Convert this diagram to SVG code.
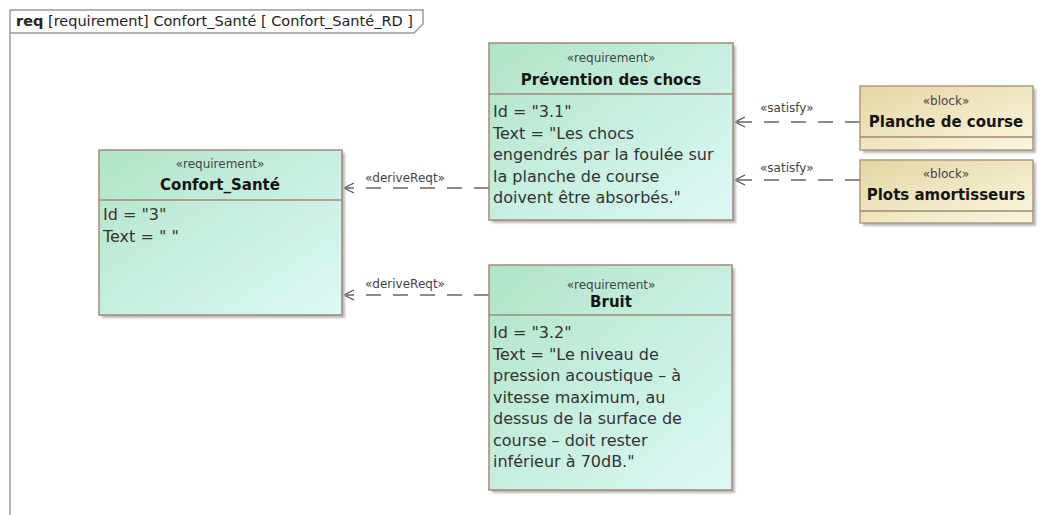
<svg xmlns="http://www.w3.org/2000/svg" width="1045" height="515" viewBox="0 0 1045 515">
  <defs>
    <linearGradient id="reqFill" x1="0" y1="0" x2="1" y2="1">
      <stop offset="0" stop-color="#b0e4c8"/>
      <stop offset="1" stop-color="#ddf9f6"/>
    </linearGradient>
    <linearGradient id="blockFill" x1="0" y1="0" x2="1" y2="1">
      <stop offset="0" stop-color="#e4d6a4"/>
      <stop offset="1" stop-color="#fbf6de"/>
    </linearGradient>
    <filter id="soft" x="-10%" y="-10%" width="130%" height="130%">
      <feGaussianBlur stdDeviation="1.2"/>
    </filter>
    <marker id="openArrow" viewBox="0 0 12 12" refX="11" refY="6" markerWidth="12" markerHeight="12" markerUnits="userSpaceOnUse" orient="auto">
      <path d="M1,1 L11,6 L1,11" fill="none" stroke="#555" stroke-width="1.2" stroke-dasharray="none"/>
    </marker>
  </defs>
  <style>
    .frame { fill: none; stroke: #9a9a9a; stroke-width: 1.5; }
    .shadow { fill: #b9b9b9; filter: url(#soft); }
    .req { fill: url(#reqFill); stroke: #a08a78; stroke-width: 1.5; }
    .blk { fill: url(#blockFill); stroke: #ae9a82; stroke-width: 1.5; }
    .div { stroke: #a08a78; stroke-width: 1.5; }
    .stereo { font-family: "DejaVu Sans", "Liberation Sans", sans-serif; font-size: 12px; fill: #444; text-anchor: middle; }
    .name { font-family: "DejaVu Sans", "Liberation Sans", sans-serif; font-size: 15px; font-weight: bold; fill: #151515; text-anchor: middle; }
    .body { font-family: "DejaVu Sans", "Liberation Sans", sans-serif; font-size: 16px; fill: #333; }
    .lbl { font-family: "DejaVu Sans", "Liberation Sans", sans-serif; font-size: 12px; fill: #444; }
    .title { font-family: "DejaVu Sans", "Liberation Sans", sans-serif; font-size: 14.5px; fill: #222; }
    .dep { fill: none; stroke: #666; stroke-width: 1.5; stroke-dasharray: 15 12; marker-end: url(#openArrow); }
  </style>

  <rect width="1045" height="515" fill="#ffffff"/>

  <!-- diagram frame: name tab and left edge -->
  <g id="frame">
    <path class="frame" d="M10,515 L10,10 L423,10 L423,24 L414,33 L10,33"/>
    <text class="title" x="16" y="26"><tspan font-weight="bold">req</tspan> [requirement] Confort_Santé [ Confort_Santé_RD ]</text>
  </g>

  <!-- dependencies -->
  <g id="connectors">
    <path class="dep" d="M489,188 L344,188"/>
    <path class="dep" d="M489,295 L344,295"/>
    <path class="dep" d="M860,122 L735,122"/>
    <path class="dep" d="M860,180 L735,180"/>
    <text class="lbl" x="365" y="182">«deriveReqt»</text>
    <text class="lbl" x="365" y="288">«deriveReqt»</text>
    <text class="lbl" x="760" y="112">«satisfy»</text>
    <text class="lbl" x="760" y="172">«satisfy»</text>
  </g>

  <!-- requirement 3 -->
  <g id="confort-sante">
    <rect class="shadow" x="102" y="153" width="243" height="165"/>
    <rect class="req" x="99" y="150" width="243" height="165"/>
    <line class="div" x1="99" y1="200" x2="342" y2="200"/>
    <text class="stereo" x="220" y="168">«requirement»</text>
    <text class="name" x="220" y="190">Confort_Santé</text>
    <text class="body" x="103" y="220">Id = "3"</text>
    <text class="body" x="103" y="242">Text = " "</text>
  </g>

  <!-- requirement 3.1 -->
  <g id="prevention-chocs">
    <rect class="shadow" x="492" y="46" width="244" height="177"/>
    <rect class="req" x="489" y="43" width="244" height="177"/>
    <line class="div" x1="489" y1="94" x2="733" y2="94"/>
    <text class="stereo" x="611" y="62">«requirement»</text>
    <text class="name" x="611" y="85">Prévention des chocs</text>
    <text class="body" x="493" y="117">Id = "3.1"</text>
    <text class="body" x="493" y="138.5">Text = "Les chocs</text>
    <text class="body" x="493" y="160">engendrés par la foulée sur</text>
    <text class="body" x="493" y="181.5">la planche de course</text>
    <text class="body" x="493" y="203">doivent être absorbés."</text>
  </g>

  <!-- requirement 3.2 -->
  <g id="bruit">
    <rect class="shadow" x="492" y="268" width="243" height="225"/>
    <rect class="req" x="489" y="265" width="243" height="225"/>
    <line class="div" x1="489" y1="315" x2="732" y2="315"/>
    <text class="stereo" x="611" y="289">«requirement»</text>
    <text class="name" x="611" y="307">Bruit</text>
    <text class="body" x="493" y="338">Id = "3.2"</text>
    <text class="body" x="493" y="359.5">Text = "Le niveau de</text>
    <text class="body" x="493" y="381">pression acoustique – à</text>
    <text class="body" x="493" y="402.5">vitesse maximum, au</text>
    <text class="body" x="493" y="424">dessus de la surface de</text>
    <text class="body" x="493" y="445.5">course – doit rester</text>
    <text class="body" x="493" y="467">inférieur à 70dB."</text>
  </g>

  <!-- block: Planche de course -->
  <g id="planche-de-course">
    <rect class="shadow" x="863" y="89" width="173" height="64"/>
    <rect class="blk" x="860" y="86" width="173" height="64"/>
    <line class="div" x1="860" y1="137" x2="1033" y2="137"/>
    <text class="stereo" x="946" y="105">«block»</text>
    <text class="name" x="946" y="127">Planche de course</text>
  </g>

  <!-- block: Plots amortisseurs -->
  <g id="plots-amortisseurs">
    <rect class="shadow" x="863" y="163" width="173" height="63"/>
    <rect class="blk" x="860" y="160" width="173" height="63"/>
    <line class="div" x1="860" y1="211" x2="1033" y2="211"/>
    <text class="stereo" x="946" y="178">«block»</text>
    <text class="name" x="946" y="200">Plots amortisseurs</text>
  </g>
</svg>
